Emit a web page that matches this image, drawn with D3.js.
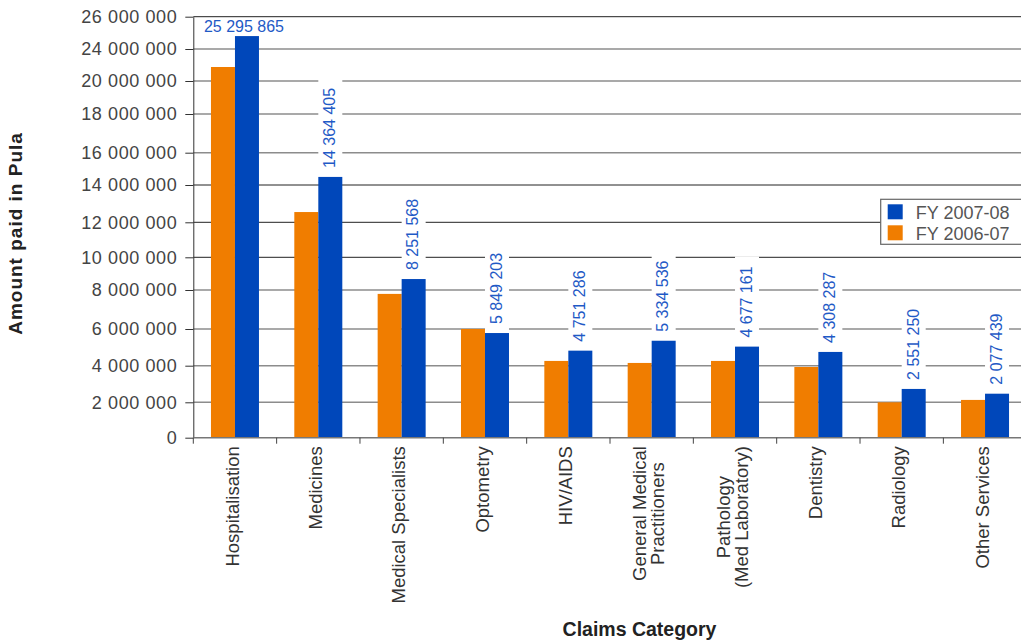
<!DOCTYPE html>
<html>
<head>
<meta charset="utf-8">
<script src="https://cdn.jsdelivr.net/npm/d3@7"></script>
<style>
  body { margin: 0; background: #fff; }
  text { font-family: "Liberation Sans", Arial, sans-serif; }
</style>
</head>
<body>
<div id="chart"></div>
<script>
const WIDTH = 1021;
const HEIGHT = 642;

// data
const categories = ["Hospitalisation", "Medicines", "Medical Specialists", "Optometry", "HIV/AIDS",
  "General Medical\nPractitioners", "Pathology\n(Med Laboratory)", "Dentistry", "Radiology", "Other Services"];
const series = ["FY 2006-07", "FY 2007-08"];
const fy0607 = [21750000, 12550000, 7800000, 6000000, 4260000, 4150000, 4260000, 3930000, 2000000, 2130000];
const fy0708 = [24800000, 14500000, 8670000, 5780000, 4820000, 5360000, 5040000, 4750000, 2730000, 2470000];
const valueLabels = ["25 295 865", "14 364 405", "8 251 568", "5 849 203", "4 751 286",
  "5 334 536", "4 677 161", "4 308 287", "2 551 250", "2 077 439"];
const yTicks = [0, 2000000, 4000000, 6000000, 8000000, 10000000, 12000000, 14000000,
  16000000, 18000000, 20000000, 24000000, 26000000];
const darkGrid = [10000000, 12000000, 14000000, 26000000];

// layout (the original axis is not evenly spaced)
const yTickPos = [437.7, 402.3, 365.7, 329, 290, 257.3, 222.3, 185, 152.7, 114, 81, 49, 16.7];
const plotLeft = 193.3;
const colors = { "FY 2006-07": "#f07d00", "FY 2007-08": "#0047ba" };

const svg = d3.select("#chart").append("svg")
  .attr("width", WIDTH).attr("height", HEIGHT)
  .style("background", "#fff");

const x = d3.scaleBand().domain(categories).range([plotLeft, plotLeft + 833.4]);
const xs = d3.scaleBand().domain(series).range([0, 48]);
const barOff = (x.bandwidth() - 48) / 2;
const y = d3.scaleLinear().domain(yTicks).range(yTickPos);

const rows = categories.map((c, i) => ({ cat: c, "FY 2006-07": fy0607[i], "FY 2007-08": fy0708[i], label: valueLabels[i] }));

// gridlines
svg.append("g")
  .selectAll("line")
  .data(yTicks.filter(d => d > 0))
  .join("line")
  .attr("x1", plotLeft).attr("x2", WIDTH)
  .attr("y1", d => y(d)).attr("y2", d => y(d))
  .attr("stroke", d => darkGrid.includes(d) ? "#222" : "#8c8c8c")
  .attr("stroke-width", d => darkGrid.includes(d) ? 1 : 1.5);

// value labels with white boxes (drawn before bars so the box sits behind)
const labelG = svg.append("g");
rows.forEach(r => {
  const cx = x(r.cat) + barOff + xs("FY 2007-08") + xs.bandwidth() / 2;
  const top = y(r["FY 2007-08"]);
  if (r["FY 2007-08"] > 20000000) {
    labelG.append("text")
      .attr("x", cx - 3).attr("y", top - 4)
      .attr("text-anchor", "middle")
      .attr("font-size", 16).attr("fill", "#1f5ac6")
      .text(r.label);
    return;
  }
  const box = labelG.append("rect");
  const t = labelG.append("text")
    .attr("transform", "translate(" + cx + "," + (top - 9) + ") rotate(-90)")
    .attr("dy", "0.3em")
    .attr("font-size", 16).attr("fill", "#1f5ac6")
    .text(r.label);
  const len = t.node().getComputedTextLength();
  box.attr("x", cx - 12).attr("width", 24)
    .attr("y", top - 9 - len - 10).attr("height", len + 19)
    .attr("fill", "#fff");
});

// bars
svg.append("g")
  .selectAll("g")
  .data(rows)
  .join("g")
  .attr("transform", d => "translate(" + (x(d.cat) + barOff) + ",0)")
  .selectAll("rect")
  .data(d => series.map(s => ({ s: s, v: d[s] })))
  .join("rect")
  .attr("x", d => xs(d.s))
  .attr("width", xs.bandwidth())
  .attr("y", d => y(d.v))
  .attr("height", d => y(0) - y(d.v))
  .attr("fill", d => colors[d.s]);

// y axis
const yAxis = d3.axisLeft(y)
  .tickValues(yTicks)
  .tickFormat(d => d3.format(",")(d).replace(/,/g, " "))
  .tickSize(8).tickSizeOuter(0).tickPadding(8);

const gy = svg.append("g")
  .attr("transform", "translate(" + plotLeft + ",0)")
  .call(yAxis);
gy.attr("font-size", 18).attr("font-family", null);
gy.select(".domain").attr("stroke", "#333");
gy.selectAll(".tick line").attr("stroke", "#333");
gy.selectAll(".tick text").attr("fill", "#444").attr("letter-spacing", 0.6);

// x axis line and category ticks
svg.append("line")
  .attr("x1", plotLeft).attr("x2", WIDTH)
  .attr("y1", y(0)).attr("y2", y(0))
  .attr("stroke", "#777").attr("stroke-width", 1.5);
svg.append("g")
  .selectAll("line")
  .data(categories)
  .join("line")
  .attr("x1", d => x(d)).attr("x2", d => x(d))
  .attr("y1", y(0)).attr("y2", y(0) + 6)
  .attr("stroke", "#444");

// category labels, rotated, top aligned, lines centred on each other
const catG = svg.append("g")
  .selectAll("g")
  .data(categories)
  .join("g")
  .attr("transform", d => "translate(" + (x(d) + x.bandwidth() / 2) + "," + (y(0) + 8.5) + ") rotate(-90)");

catG.each(function(d) {
  const g = d3.select(this);
  const lines = d.split("\n");
  const texts = lines.map((line, i) => g.append("text")
    .attr("y", (i - (lines.length - 1) / 2) * 18)
    .attr("dy", "0.2em")
    .attr("text-anchor", "middle")
    .attr("font-size", 18.5).attr("fill", "#333")
    .text(line));
  const maxLen = d3.max(texts, t => t.node().getComputedTextLength());
  texts.forEach(t => t.attr("x", -maxLen / 2));
});

// axis titles
svg.append("text")
  .attr("x", 639.5).attr("y", 636)
  .attr("text-anchor", "middle")
  .attr("font-size", 19.5).attr("font-weight", "bold").attr("fill", "#222")
  .text("Claims Category");

svg.append("text")
  .attr("transform", "translate(22,233.5) rotate(-90)")
  .attr("text-anchor", "middle")
  .attr("font-size", 19).attr("font-weight", "bold").attr("fill", "#222")
  .attr("letter-spacing", 1)
  .text("Amount paid in Pula");

// legend
const legend = svg.append("g").attr("transform", "translate(880.7,199.3)");
legend.append("rect")
  .attr("width", 160).attr("height", 45)
  .attr("fill", "#fff").attr("stroke", "#666").attr("stroke-width", 1.2);
const legendItems = ["FY 2007-08", "FY 2006-07"];
legend.selectAll("g")
  .data(legendItems)
  .join("g")
  .attr("transform", (d, i) => "translate(7," + (5 + i * 21) + ")")
  .each(function(d) {
    const g = d3.select(this);
    g.append("rect").attr("width", 15).attr("height", 15).attr("fill", colors[d]);
    g.append("text").attr("x", 28).attr("y", 14.3)
      .attr("font-size", 18).attr("fill", "#555")
      .text(d);
  });
</script>
</body>
</html>
